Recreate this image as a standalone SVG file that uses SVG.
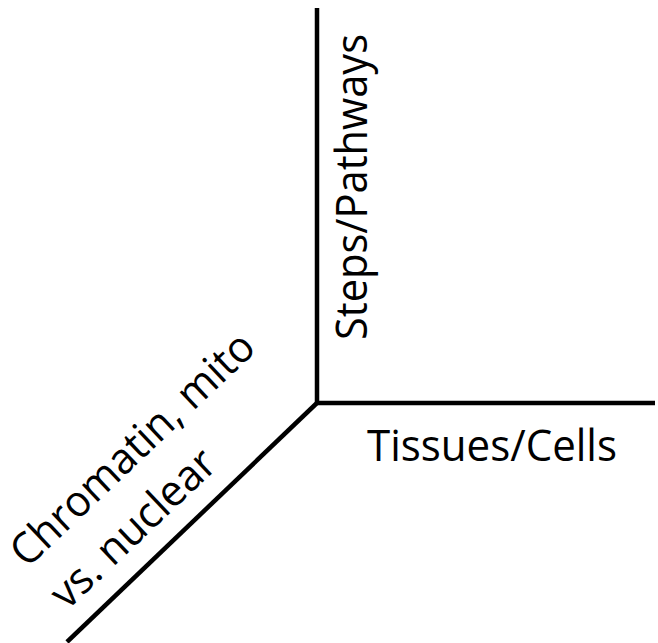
<svg xmlns="http://www.w3.org/2000/svg" width="658" height="643" viewBox="0 0 658 643">
<style>
.ax{stroke:#000;stroke-width:4.5;fill:none;stroke-linecap:butt}
.lb{font-family:"Open Sans","Liberation Sans",sans-serif;font-size:43px;fill:#000}
</style>
<rect width="658" height="643" fill="#fff"/>
<g id="connectors">
<line class="ax" x1="317" y1="8" x2="317" y2="405"/>
<line class="ax" x1="315" y1="403" x2="655" y2="403"/>
<line class="ax" x1="318" y1="402" x2="67" y2="642"/>
</g>
<g id="node-steps">
<text class="lb" transform="translate(367,340) rotate(-90)" textLength="306" lengthAdjust="spacingAndGlyphs">Steps/Pathways</text>
</g>
<g id="node-tissues">
<text class="lb" x="367" y="461" textLength="250" lengthAdjust="spacingAndGlyphs">Tissues/Cells</text>
</g>
<g id="node-chromatin">
<text class="lb" transform="translate(27,569) rotate(-43.5)">
<tspan x="0" y="0" textLength="318" lengthAdjust="spacingAndGlyphs">Chromatin, mito</tspan>
<tspan x="0" y="58" textLength="210" lengthAdjust="spacingAndGlyphs">vs. nuclear</tspan>
</text>
</g>
</svg>
